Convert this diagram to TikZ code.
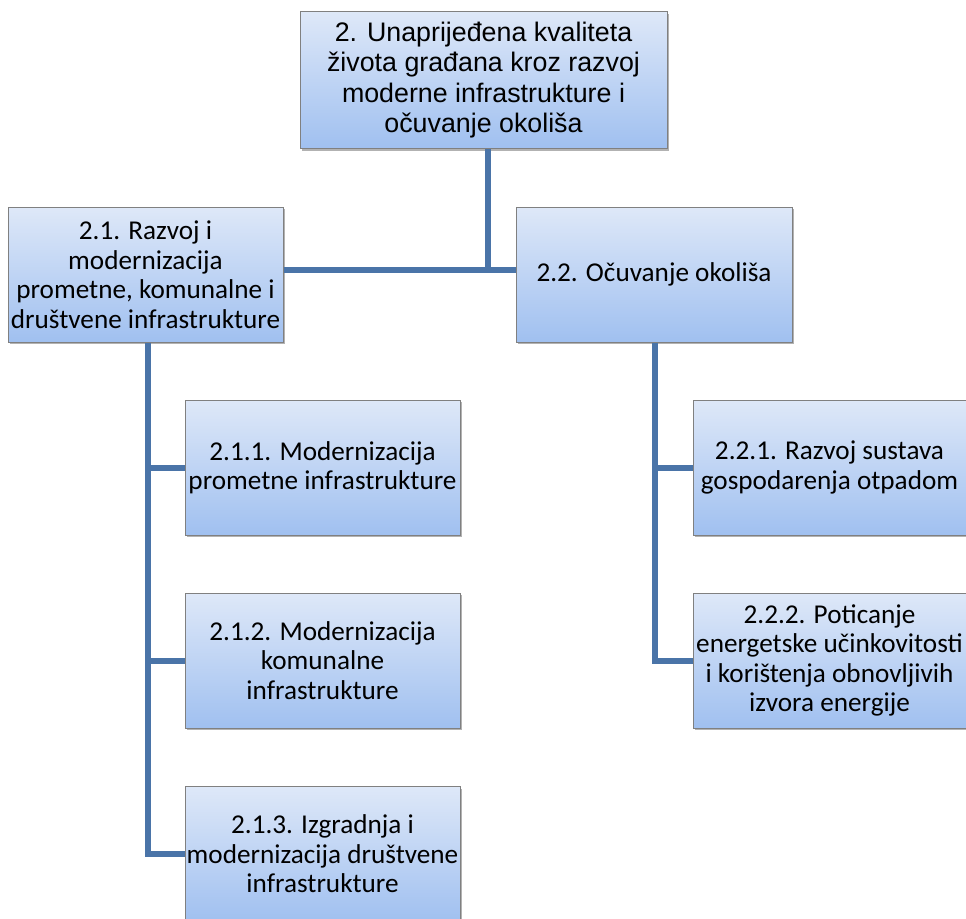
\documentclass[tikz,border=0pt]{standalone}
\usepackage{fontspec}
\setmainfont{Carlito}
\newfontfamily\arialf{Liberation Sans}
\usetikzlibrary{shadows}
\definecolor{conn}{RGB}{74,116,168}
\definecolor{boxtop}{RGB}{222,232,248}
\definecolor{boxbot}{RGB}{160,192,240}
\definecolor{boxedge}{RGB}{128,128,128}
\tikzset{
  bx/.style={draw=boxedge, line width=1pt, top color=boxtop, bottom color=boxbot,
    drop shadow={shadow xshift=2pt, shadow yshift=-2pt, opacity=0.5, fill=black!60},
    align=center, inner sep=0pt, font=\fontsize{27.2}{29.5}\selectfont},
  cn/.style={draw=conn, line width=6pt}
}
\begin{document}
\begin{tikzpicture}[x=1pt,y=-1pt]
\useasboundingbox (0,0) rectangle (966,918);
\node[bx, minimum width=367pt, minimum height=137pt, font=\arialf\fontsize{26.8}{30.5}\selectfont] (top) at (483.5,80) {2. Unaprijeđena kvaliteta\\života građana kroz razvoj\\moderne infrastrukture i\\očuvanje okoliša};
\node[bx, minimum width=275pt, minimum height=135pt] (a) at (145.5,274.5) {2.1. Razvoj i\\modernizacija\\prometne, komunalne i\\društvene infrastrukture};
\node[bx, minimum width=276pt, minimum height=135pt] (b) at (654,274.5) {2.2. Očuvanje okoliša};
\node[bx, minimum width=275pt, minimum height=135pt] (a1) at (322.5,467.5) {2.1.1. Modernizacija\\prometne infrastrukture};
\node[bx, minimum width=275pt, minimum height=135pt] (a2) at (322.5,660.5) {2.1.2. Modernizacija\\komunalne\\infrastrukture};
\node[bx, minimum width=275pt, minimum height=135pt] (a3) at (322.5,854) {2.1.3. Izgradnja i\\modernizacija društvene\\infrastrukture};
\node[bx, minimum width=273pt, minimum height=135pt] (b1) at (829.5,467.5) {2.2.1. Razvoj sustava\\gospodarenja otpadom};
\node[bx, minimum width=273pt, minimum height=135pt] (b2) at (829.5,660.5) {2.2.2. Poticanje\\energetske učinkovitosti\\i korištenja obnovljivih\\izvora energije};
\coordinate (j) at (488,270);
\draw[cn] (top.south -| j) -- (j);
\draw[cn] (a.east |- j) -- (b.west |- j);
\coordinate (lv) at (148,0);
\coordinate (rv) at (655,0);
\draw[cn] (a.south -| lv) -- (lv |- a3.west) -- (a3.west);
\draw[cn] (lv |- a1.west) -- (a1.west);
\draw[cn] (lv |- a2.west) -- (a2.west);
\draw[cn] (b.south -| rv) -- (rv |- b2.west) -- (b2.west);
\draw[cn] (rv |- b1.west) -- (b1.west);
\end{tikzpicture}
\end{document}
